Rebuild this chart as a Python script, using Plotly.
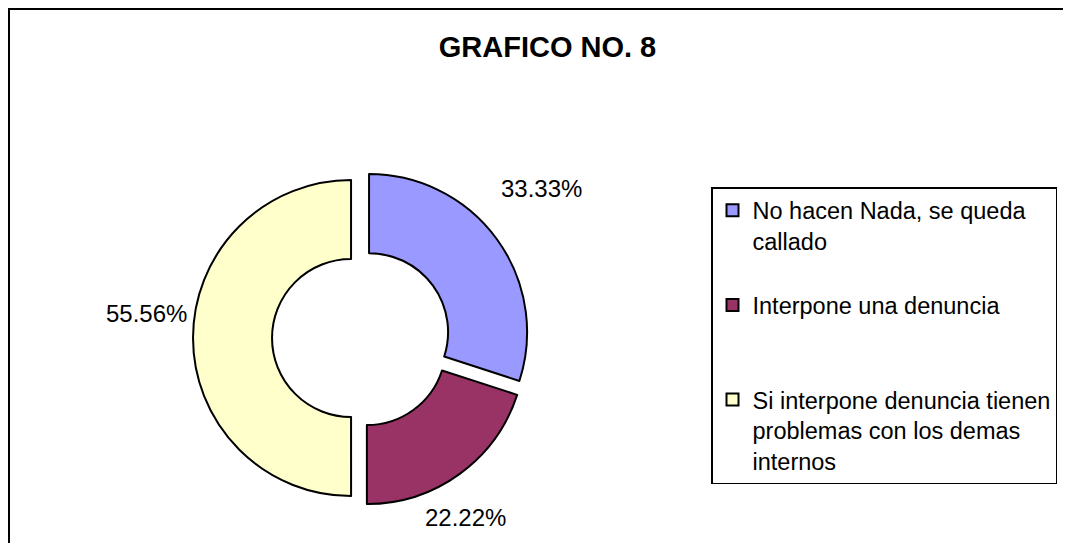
import math
import plotly.graph_objects as go

# Data
categories = [
    "No hacen Nada, se queda<br>callado<br> ",
    "Interpone una denuncia<br> <br> ",
    "Si interpone denuncia tienen<br>problemas con los demas<br>internos",
]
values = [33.33, 22.22, 55.56]
value_labels = ["33.33%", "22.22%", "55.56%"]
colors = ["#9999FF", "#993366", "#FFFFCC"]
title_text = "GRAFICO NO. 8"

# Styling (page body has an 8px margin, so the figure starts at (8, 8) on screen)
W, H = 1063, 535
FONT = "Liberation Sans, Arial, sans-serif"
PULL = 0.063
DOM_X = (185, 521)   # pie domain, figure px
DOM_Y = (162, 498)   # pie domain, figure px from top
# label placement: (radius in px from pie centre, angular nudge in degrees)
LABEL_STYLE = [(234, -3.6), (208, 5.7), (216, 6.6)]

fig = go.Figure()
fig.add_trace(go.Pie(
    labels=categories,
    values=values,
    textinfo="none",
    hole=0.5,
    sort=False,
    direction="clockwise",
    rotation=0,
    pull=[PULL] * len(values),
    marker=dict(colors=colors, line=dict(color="black", width=2)),
    domain=dict(x=[DOM_X[0] / W, DOM_X[1] / W],
                y=[1 - DOM_Y[1] / H, 1 - DOM_Y[0] / H]),
    hoverinfo="none",
    showlegend=True,
))

# value labels placed around the ring at each slice's mid-angle
cx = (DOM_X[0] + DOM_X[1]) / 2
cy = (DOM_Y[0] + DOM_Y[1]) / 2
total = sum(values)
annotations = []
cum = 0.0
for v, lab, (rad, nudge) in zip(values, value_labels, LABEL_STYLE):
    mid = (cum + v / 2) / total * 360.0
    cum += v
    th = math.radians(mid + nudge)
    x = cx + rad * math.sin(th)
    y = cy - rad * math.cos(th)
    annotations.append(dict(
        text=lab, x=x / W, y=1 - y / H, xref="paper", yref="paper",
        xanchor="center", yanchor="middle", showarrow=False,
        font=dict(family=FONT, size=24, color="black"),
    ))

fig.update_layout(
    width=W, height=H,
    autosize=False,
    margin=dict(l=0, r=0, t=0, b=0),
    paper_bgcolor="white",
    plot_bgcolor="white",
    font=dict(family=FONT, size=23.5, color="black"),
    title=dict(
        text="<b>" + title_text + "</b>",
        x=539.5 / W, y=1 - 39 / H,
        xanchor="center", yanchor="middle",
        xref="paper", yref="paper",
        font=dict(family=FONT, size=29, color="black"),
    ),
    legend=dict(
        x=703 / W, y=1 - 179 / H,
        xanchor="left", yanchor="top",
        xref="paper", yref="paper",
        bordercolor="black", borderwidth=1.5,
        bgcolor="white",
        valign="top",
        font=dict(family=FONT, size=23.5, color="black"),
        traceorder="normal",
    ),
    annotations=annotations,
    shapes=[dict(
        type="rect", xref="paper", yref="paper",
        x0=1 / W, y0=-0.05, x1=1.05, y1=1 - 1 / H,
        line=dict(color="black", width=2),
        fillcolor="rgba(0,0,0,0)",
        layer="below",
    )],
)

fig.write_html("out.html")
